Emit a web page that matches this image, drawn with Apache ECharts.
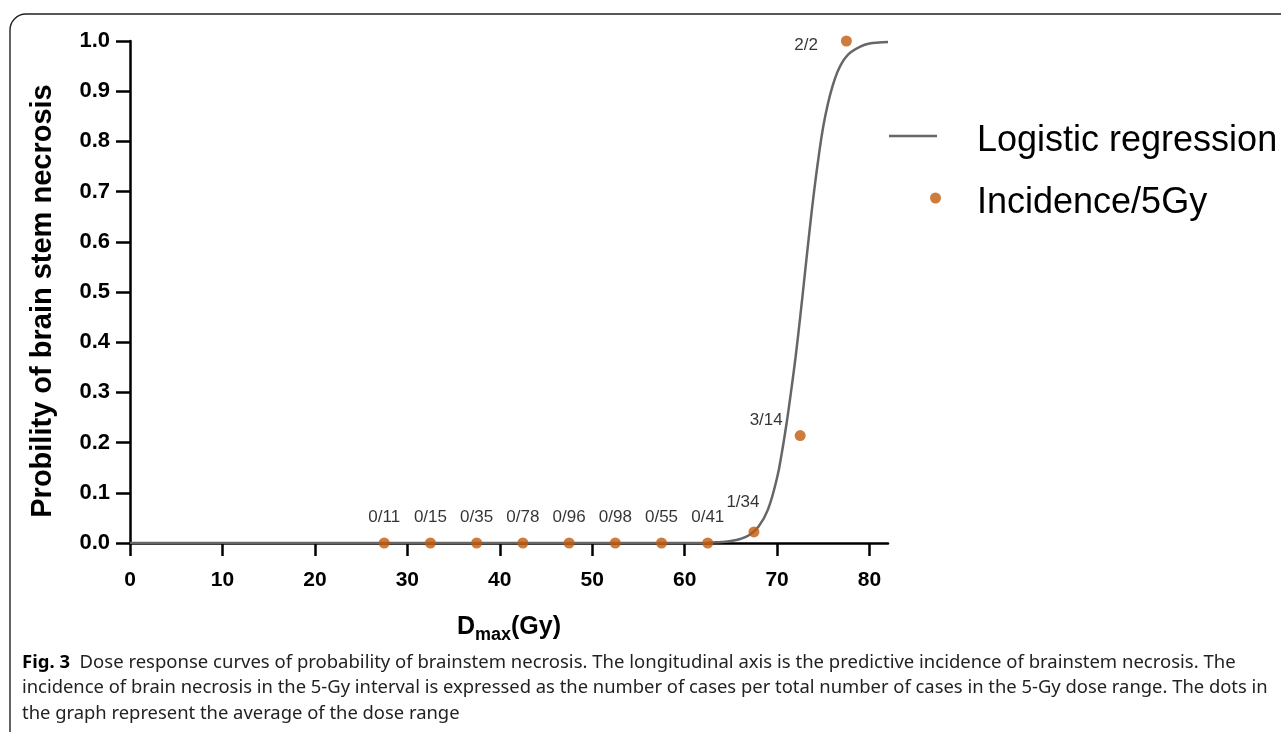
<!DOCTYPE html>
<html>
<head>
<meta charset="utf-8">
<script src="https://cdn.jsdelivr.net/npm/echarts@6/dist/echarts.min.js"></script>
<style>html,body{margin:0;padding:0;background:#fff}#c{width:1281px;height:732px}</style>
</head>
<body>
<div id="c"></div>
<script>
// Logistic regression curve
const curveX = [0, 10, 20, 30, 40, 50, 60, 62, 63, 64, 65, 66, 67, 68, 69, 70, 70.5, 71, 71.5, 72, 72.5, 73, 73.5, 74, 74.5, 75, 75.5, 76, 76.5, 77, 77.5, 78, 79, 80, 81, 82];
const curveY = [0, 0, 0, 0, 0, 0, 0, 0.000, 0.001, 0.002, 0.004, 0.008, 0.016, 0.033, 0.066, 0.13, 0.178, 0.235, 0.30, 0.37, 0.45, 0.535, 0.62, 0.70, 0.77, 0.83, 0.875, 0.91, 0.937, 0.956, 0.969, 0.978, 0.989, 0.995, 0.997, 0.998];
// Incidence per 5 Gy
const doseMid = [27.5, 32.5, 37.5, 42.5, 47.5, 52.5, 57.5, 62.5, 67.5, 72.5, 77.5];
const incidence = [0, 0, 0, 0, 0, 0, 0, 0, 0.022, 0.214, 1.0];
const caseLabels = ['0/11', '0/15', '0/35', '0/78', '0/96', '0/98', '0/55', '0/41', '1/34', '3/14', '2/2'];
const xTicks = [0, 10, 20, 30, 40, 50, 60, 70, 80];

const chart = echarts.init(document.getElementById('c'), null, {renderer: 'canvas'});
const FONT = 'Liberation Sans, Arial, sans-serif';

const labelPlace = {
  '1/34': {position: 'top', offset: [-11, -11]},
  '3/14': {position: 'top', offset: [-34, 4]},
  '2/2': {position: 'left', offset: [-18, 4]}
};
const scatterData = doseMid.map((x, i) => {
  const p = labelPlace[caseLabels[i]] || {position: 'top', offset: [0, -7]};
  return {value: [x, incidence[i]], label: {show: true, formatter: caseLabels[i], position: p.position, offset: p.offset}};
});

function legendText(gap) {
  return {
    rich: {
      s: {width: gap, fontSize: 1, lineHeight: 46},
      a: {fontFamily: FONT, fontSize: 36, lineHeight: 40, color: '#000', verticalAlign: 'bottom'}
    }
  };
}

const option = {
  animation: false,
  grid: {left: 130, right: 393, top: 41, bottom: 189, containLabel: false},
  xAxis: {
    type: 'value', min: 0, max: 82,
    axisLine: {show: true, onZero: false, lineStyle: {color: '#000', width: 2.5}},
    axisTick: {show: true, length: 13, lineStyle: {color: '#000', width: 2.5}, customValues: xTicks},
    axisLabel: {customValues: xTicks, color: '#000', fontFamily: FONT, fontWeight: 'bold', fontSize: 21, margin: 27},
    splitLine: {show: false},
    name: '{b|D}{s|max}{b|(Gy)}', nameLocation: 'middle', nameGap: 72,
    nameTextStyle: {rich: {
      b: {fontFamily: FONT, fontWeight: 'bold', fontSize: 25, color: '#000', verticalAlign: 'bottom'},
      s: {fontFamily: FONT, fontWeight: 'bold', fontSize: 18, color: '#000', verticalAlign: 'bottom', padding: [0, 0, -4, 0]}
    }}
  },
  yAxis: {
    type: 'value', min: 0, max: 1, interval: 0.1,
    axisLine: {show: true, onZero: false, lineStyle: {color: '#000', width: 2.5}},
    axisTick: {show: true, length: 14, lineStyle: {color: '#000', width: 2.5}},
    axisLabel: {color: '#000', fontFamily: FONT, fontWeight: 'bold', fontSize: 22, margin: 20, formatter: v => v.toFixed(1)},
    splitLine: {show: false},
    name: 'Probility of brain stem necrosis', nameLocation: 'middle', nameGap: 73,
    nameTextStyle: {fontFamily: FONT, fontWeight: 'bold', fontSize: 29, color: '#000', padding: [0, 18, 0, 0]}
  },
  legend: [
    {data: [{name: 'Logistic regression', icon: 'rect'}], left: 889, top: 123, padding: 0, orient: 'vertical',
     itemWidth: 48, itemHeight: 2.5, formatter: n => '{s| }{a|' + n + '}',
     textStyle: legendText(35)},
    {data: [{name: 'Incidence/5Gy', icon: 'circle'}], left: 930, top: 185, padding: 0, orient: 'vertical',
     itemWidth: 11, itemHeight: 11, formatter: n => '{s| }{a|' + n + '}',
     textStyle: legendText(31)}
  ],
  series: [
    {name: 'Logistic regression', type: 'line', data: curveX.map((x, i) => [x, curveY[i]]),
     smooth: 0.4, symbol: 'none', showSymbol: false,
     lineStyle: {color: '#666', width: 2.5}, itemStyle: {color: '#666'}, z: 2},
    {name: 'Incidence/5Gy', type: 'scatter', data: scatterData, symbolSize: 11,
     itemStyle: {color: '#C25B0C'}, z: 3,
     label: {color: '#000', fontFamily: FONT, fontSize: 17}}
  ],
  graphic: [
    {type: 'rect', shape: {x: 10, y: 14, width: 1400, height: 900, r: [16, 0, 0, 0]},
     style: {fill: 'none', stroke: '#222', lineWidth: 1.4}, silent: true},
    {type: 'text', left: 22, top: 653, style: {
      rich: {b: {fontFamily: 'Noto Sans', fontWeight: 'bold', fontSize: 18.5, fill: '#000'}, n: {fontFamily: 'Noto Sans', fontSize: 18.5, fill: '#222'}},
      text: '{b|Fig. 3}{n|  Dose response curves of probability of brainstem necrosis. The longitudinal axis is the predictive incidence of brainstem necrosis. The}'}},
    {type: 'text', left: 22, top: 679, style: {fontFamily: 'Noto Sans', fontSize: 18.4, fill: '#222',
      text: 'incidence of brain necrosis in the 5-Gy interval is expressed as the number of cases per total number of cases in the 5-Gy dose range. The dots in'}},
    {type: 'text', left: 22, top: 705, style: {fontFamily: 'Noto Sans', fontSize: 18.4, fill: '#222',
      text: 'the graph represent the average of the dose range'}}
  ]
};
chart.setOption(option);
</script>
</body>
</html>
